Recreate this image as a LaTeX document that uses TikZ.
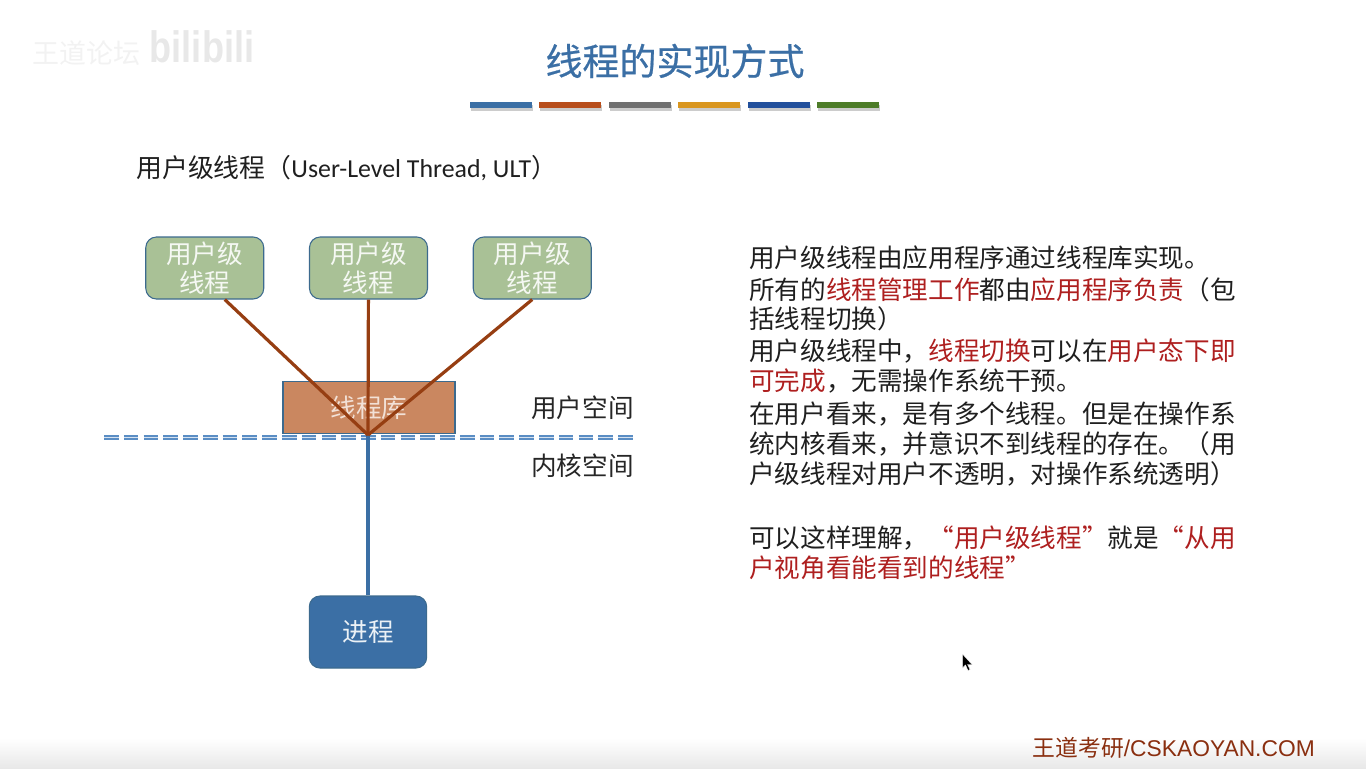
\documentclass[tikz,border=0pt]{standalone}
\usepackage{fontspec}
\setmainfont{Carlito}
\newfontfamily\cjk{Noto Sans CJK SC}
\newfontfamily\cjkheavy[FakeBold=0.6]{Noto Sans CJK SC}
\newfontfamily\arialfont{Liberation Sans}
\usepackage{xcolor}
\definecolor{TitleBlue}{HTML}{3B6FA5}
\definecolor{BarRust}{HTML}{B84E1C}
\definecolor{BarGray}{HTML}{707070}
\definecolor{BarGold}{HTML}{D9961F}
\definecolor{BarNavy}{HTML}{22509C}
\definecolor{BarGreen}{HTML}{4D7C28}
\definecolor{UserGreen}{HTML}{A9C196}
\definecolor{LibOrange}{HTML}{CA8760}
\definecolor{LinkBrown}{HTML}{963E12}
\definecolor{EdgeBlue}{HTML}{3C6A8E}
\definecolor{DashBlue}{HTML}{5A8DC4}
\definecolor{NoteRed}{HTML}{AE1F1F}
\definecolor{MarkBrown}{HTML}{8A2F10}
\usepackage{tikz}
\usetikzlibrary{arrows.meta,calc,positioning,shadows}

\newcommand{\red}[1]{\textcolor{NoteRed}{#1}}

\begin{document}
\begin{tikzpicture}[
    x=0.75pt,y=-0.75pt,
    userbox/.style={rectangle,rounded corners=8pt,draw=EdgeBlue,fill=UserGreen,
      line width=0.8pt,minimum width=88.5pt,minimum height=46.5pt,inner sep=0pt,
      align=center,text=white!88!UserGreen,
      font=\cjk\fontsize{19.2}{21.8}\selectfont},
    libbox/.style={rectangle,draw=EdgeBlue,fill=LibOrange,line width=0.8pt,
      minimum width=129pt,minimum height=39.5pt,inner sep=0pt,
      text=white!75!LibOrange,font=\cjk\fontsize{19.2}{22}\selectfont},
    procbox/.style={rectangle,rounded corners=8pt,draw=EdgeBlue,fill=TitleBlue,
      line width=0.8pt,minimum width=88pt,minimum height=54pt,inner sep=0pt,
      text=white!90!TitleBlue,font=\cjk\fontsize{19.2}{22}\selectfont},
    note/.style={anchor=north west,inner sep=0pt,align=left,text=black!88,
      font=\cjk\fontsize{19.2}{22.2}\selectfont},
    spacelabel/.style={anchor=east,inner sep=0pt,text=black!85,
      font=\cjk\fontsize{19.2}{22}\selectfont},
    bar/.style={minimum width=46.5pt,minimum height=4.5pt,inner sep=0pt,
      drop shadow={shadow xshift=0.8pt,shadow yshift=-2pt,opacity=0.4}},
    link/.style={draw=LinkBrown,line width=2.4pt},
    stem/.style={draw=TitleBlue,line width=2.6pt},
    boundary/.style={draw=DashBlue,line width=1.3pt,double=white!75!DashBlue,
      double distance=1.1pt,dash pattern=on 11pt off 3.83pt}
  ]
    \useasboundingbox (0,0) rectangle (1366,768);
    \shade[top color=white,bottom color=black!9] (0,738) rectangle (1366,768);

    % watermark
    \node[text=black!5,font=\cjk\fontsize{20.25}{22}\selectfont] (mark) at (86,53) {王道论坛};
    \node[text=black!9,xscale=0.82,font=\arialfont\bfseries\fontsize{33}{35}\selectfont] (bili) at (202,47) {bilibili};

    % title
    \node[text=TitleBlue,font=\cjkheavy\fontsize{27.75}{30}\selectfont] (title) at (675,61) {线程的实现方式};
    \node[bar,fill=TitleBlue] (bar1) at (501,105) {};
    \node[bar,fill=BarRust,right=5.15pt of bar1] (bar2) {};
    \node[bar,fill=BarGray,right=5.15pt of bar2] (bar3) {};
    \node[bar,fill=BarGold,right=5.15pt of bar3] (bar4) {};
    \node[bar,fill=BarNavy,right=5.15pt of bar4] (bar5) {};
    \node[bar,fill=BarGreen,right=5.15pt of bar5] (bar6) {};

    \node[anchor=west,inner sep=0pt,text=black!88,font=\fontsize{19.4}{22}\selectfont] (head) at (136,168)
      {{\cjk 用户级线程（}User-Level Thread, ULT{\cjk ）}};

    % threads and library
    \node[userbox] (ult2) at (368.5,268) {用户级\\线程};
    \node[userbox,left=33.5pt of ult2] (ult1) {用户级\\线程};
    \node[userbox,right=33.5pt of ult2] (ult3) {用户级\\线程};
    \node[libbox] (lib) at (369,407.5) {线程库};
    \node[procbox] (proc) at (368,632) {进程};

    \coordinate (hub) at (368,435);
    \coordinate (spaceL) at (104,437.5);
    \coordinate (spaceR) at (633,437.5);

    \draw[boundary] (spaceL) -- (spaceR);
    \draw[stem] (hub) -- (proc);
    \draw[link] ([xshift=15pt]ult1.south) -- (hub);
    \draw[link] (ult2) -- (hub);
    \draw[link] (ult3.south) -- (hub);

    \node[spacelabel] (uspace) at (634,408) {用户空间};
    \node[spacelabel] (kspace) at (634,466) {内核空间};

    % notes on the right
    \node[note] (note1) at (749,246) {用户级线程由应用程序通过线程库实现。};
    \node[note] (note2) at (749,277)
      {所有的\red{线程管理工作}都由\red{应用程序负责}（包\\括线程切换）};
    \node[note] (note3) at (749,339)
      {用户级线程中，\red{线程切换}可以在\red{用户态下即}\\\red{可完成}，无需操作系统干预。};
    \node[note] (note4) at (749,402)
      {在用户看来，是有多个线程。但是在操作系\\统内核看来，并意识不到线程的存在。（用\\户级线程对用户不透明，对操作系统透明）};
    \node[note] (note5) at (749,526)
      {可以这样理解，\red{“用户级线程”}就是\red{“从用}\\\red{户视角看能看到的线程”}};

    % pointer
    \fill[black,draw=white,line width=0.3pt] (962.5,654) -- (962.5,668) -- (965.5,665) -- (968,670.5) -- (970,669.5) -- (967.5,664.5) -- (972,664.5) -- cycle;

    \node[anchor=east,inner sep=0pt,text=MarkBrown,font=\arialfont\fontsize{17.1}{19}\selectfont] (site) at (1315,748)
      {{\cjk 王道考研}/CSKAOYAN.COM};
\end{tikzpicture}
\end{document}
